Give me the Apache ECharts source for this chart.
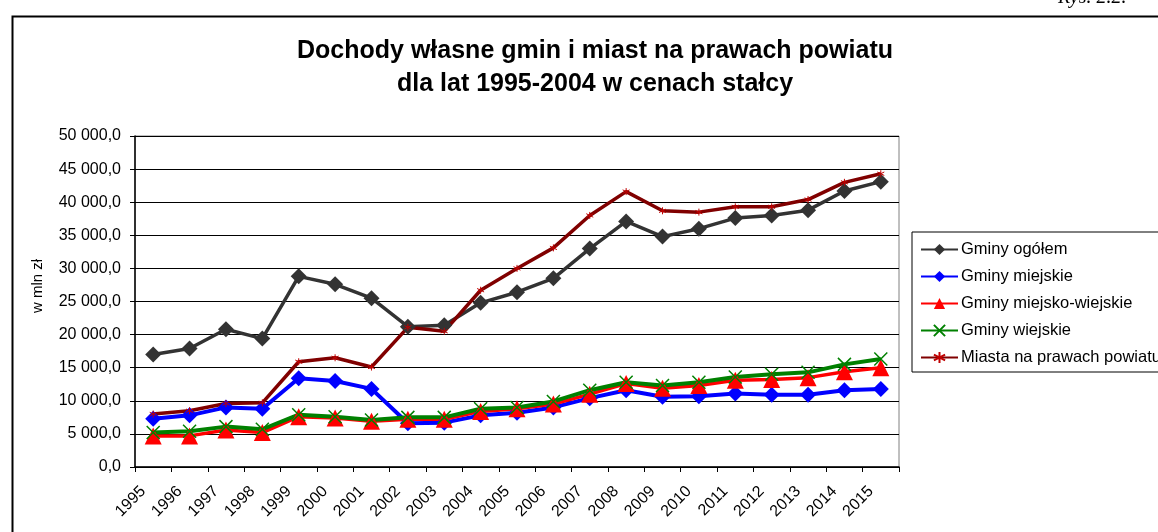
<!DOCTYPE html>
<html>
<head>
<meta charset="utf-8">
<script src="https://cdn.jsdelivr.net/npm/echarts@6/dist/echarts.min.js"></script>
<style>
  html, body { margin: 0; padding: 0; background: #fff; }
  #chart { width: 1158px; height: 532px; }
</style>
</head>
<body>
<div id="chart"></div>
<script>
// lata
var years = ['1995', '1996', '1997', '1998', '1999', '2000', '2001', '2002', '2003', '2004', '2005',
  '2006', '2007', '2008', '2009', '2010', '2011', '2012', '2013', '2014', '2015']

// w mln zł
var gminyOgolem = [17000, 17900, 20800, 19400, 28800, 27600, 25500, 21200, 21400, 24800, 26400,
  28500, 33000, 37100, 34800, 36000, 37600, 38000, 38800, 41700, 43100]
var gminyMiejskie = [7300, 7800, 9000, 8800, 13400, 13000, 11800, 6600, 6700, 7800, 8200,
  9000, 10400, 11600, 10600, 10700, 11100, 10900, 10900, 11600, 11800]
var gminyMiejskoWiejskie = [4700, 4700, 5600, 5200, 7600, 7400, 6900, 7200, 7200, 8400, 8800,
  9500, 11000, 12600, 11900, 12300, 13100, 13200, 13500, 14400, 15000]
var gminyWiejskie = [5200, 5400, 6100, 5700, 7900, 7600, 7100, 7500, 7500, 8800, 9000,
  9900, 11600, 12800, 12300, 12800, 13600, 14000, 14300, 15500, 16300]
var miasta = [8000, 8500, 9600, 9700, 15900, 16500, 15100, 21100, 20500, 26700, 30000,
  33100, 38000, 41600, 38700, 38500, 39300, 39300, 40400, 43000, 44300]

var yTicks = [0, 5000, 10000, 15000, 20000, 25000, 30000, 35000, 40000, 45000, 50000]

var font = 'Liberation Sans, Arial, sans-serif'
var xMark = 'path://M0,0L10,10M10,0L0,10'
var starMark = 'path://M5,0L5,10M0,2.5L10,7.5M10,2.5L0,7.5'

function fmt(v) {
  var s = String(Math.round(v)).replace(/\B(?=(\d{3})+(?!\d))/g, ' ')
  return s + ',0'
}

var chart = echarts.init(document.getElementById('chart'))
chart.setOption({
  animation: false,
  textStyle: { fontFamily: font, color: '#000' },
  title: {
    text: 'Dochody własne gmin i miast na prawach powiatu\ndla lat 1995-2004 w cenach stałcy',
    left: 590,
    top: 30,
    textAlign: 'center',
    textStyle: { fontSize: 25, fontWeight: 'bold', lineHeight: 33, color: '#000', fontFamily: font }
  },
  graphic: [
    {
      type: 'rect',
      left: 10, top: 14,
      shape: { width: 1200, height: 600 },
      style: { fill: 'none', stroke: '#000', lineWidth: 2 },
      silent: true
    },
    {
      type: 'text',
      left: 1058, top: -12,
      style: { text: 'Rys. 2.2.', font: 'italic 20px "Liberation Serif", serif', fill: '#000' }
    },
    {
      // opis osi Y
      type: 'text',
      x: 38, y: 286,
      rotation: Math.PI / 2,
      style: {
        text: 'w mln zł', font: '15px "Liberation Sans", Arial, sans-serif', fill: '#000',
        align: 'center', verticalAlign: 'middle'
      }
    }
  ],
  legend: {
    orient: 'vertical',
    left: 912,
    top: 232,
    padding: [9, 30, 6, 8],
    itemGap: 10,
    itemWidth: 37,
    itemHeight: 14,
    borderColor: '#000',
    borderWidth: 1,
    textStyle: { fontSize: 16.5, color: '#000', fontFamily: font, padding: [0, 0, 0, -2] },
    data: ['Gminy ogółem', 'Gminy miejskie', 'Gminy miejsko-wiejskie', 'Gminy wiejskie', 'Miasta na prawach powiatu']
  },
  grid: {
    left: 135, right: 259, top: 136, bottom: 65,
    show: true, borderColor: '#808080', borderWidth: 1
  },
  xAxis: {
    type: 'category',
    data: years,
    boundaryGap: true,
    axisLine: { lineStyle: { color: '#000', width: 1.5 } },
    axisTick: { show: true, length: 5, lineStyle: { color: '#000' } },
    axisLabel: { rotate: 45, fontSize: 16, color: '#000', margin: 12, interval: 0, padding: [0, 14, 0, 0] }
  },
  yAxis: {
    type: 'value',
    min: yTicks[0],
    max: yTicks[yTicks.length - 1],
    interval: 5000,
    axisLine: { show: true, lineStyle: { color: '#000', width: 1.5 } },
    axisTick: { show: true, length: 5, lineStyle: { color: '#000' } },
    axisLabel: { fontSize: 16, color: '#000', margin: 14, formatter: fmt },
    splitLine: { lineStyle: { color: '#000', width: 1 } }
  },
  series: [
    {
      name: 'Gminy ogółem', type: 'line', data: gminyOgolem,
      symbol: 'diamond', symbolSize: 16,
      lineStyle: { color: '#333333', width: 3.5 },
      itemStyle: { color: '#333333' }
    },
    {
      name: 'Gminy miejskie', type: 'line', data: gminyMiejskie,
      symbol: 'diamond', symbolSize: 16,
      lineStyle: { color: '#0000ff', width: 4 },
      itemStyle: { color: '#0000ff' }
    },
    {
      name: 'Gminy miejsko-wiejskie', type: 'line', data: gminyMiejskoWiejskie,
      symbol: 'triangle', symbolSize: 17,
      lineStyle: { color: '#ff0000', width: 3.5 },
      itemStyle: { color: '#ff0000' }
    },
    {
      name: 'Gminy wiejskie', type: 'line', data: gminyWiejskie,
      symbol: xMark, symbolSize: 13,
      lineStyle: { color: '#008000', width: 4 },
      itemStyle: { color: '#008000', borderColor: '#008000', borderWidth: 1.5 }
    },
    {
      name: 'Miasta na prawach powiatu', type: 'line', data: miasta,
      symbol: starMark, symbolSize: 7,
      lineStyle: { color: '#800000', width: 3.5 },
      itemStyle: { color: '#800000', borderColor: '#c00000', borderWidth: 1 }
    }
  ]
})
</script>
</body>
</html>
